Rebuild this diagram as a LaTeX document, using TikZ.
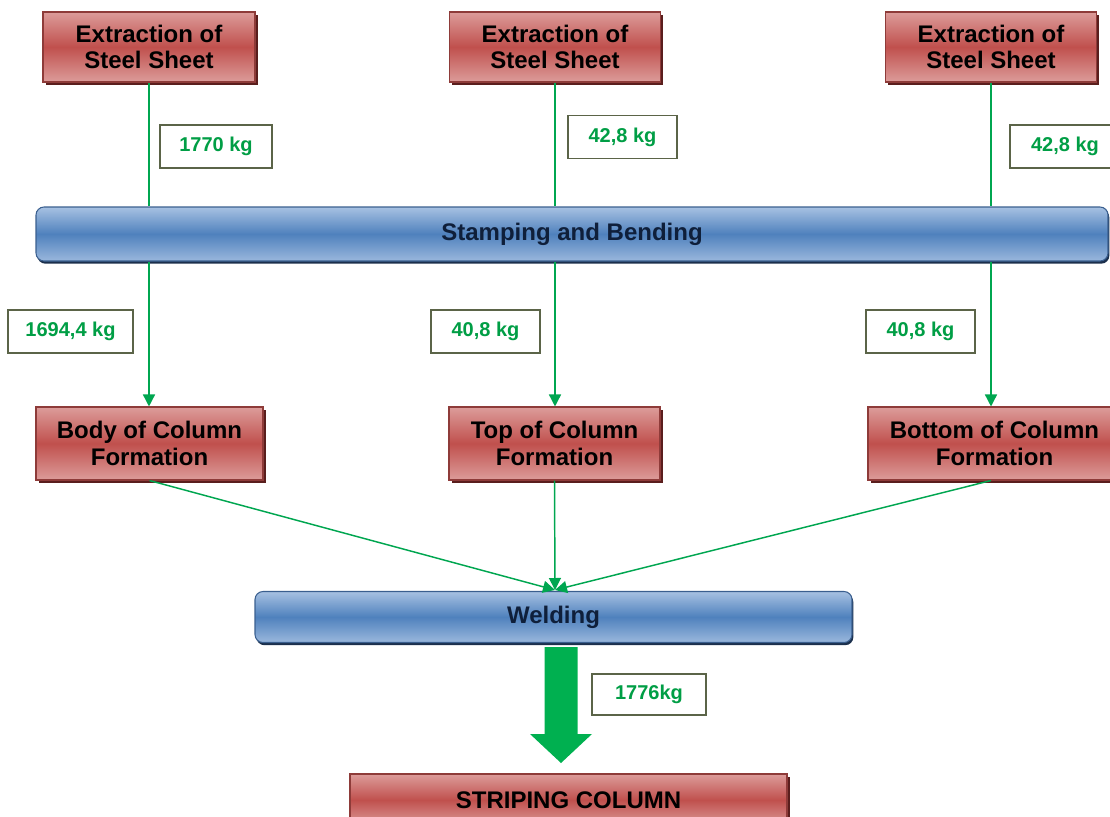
\documentclass[tikz,border=0pt]{standalone}
\usepackage{fontspec}
\setmainfont{Liberation Sans}
\usetikzlibrary{arrows.meta,shadows,calc}
\definecolor{redlight}{HTML}{DC9C9A}
\definecolor{redmid}{HTML}{C0504D}
\definecolor{redborder}{HTML}{8E3B39}
\definecolor{redshadow}{HTML}{5A1E1D}
\definecolor{bluelight}{HTML}{A7C1E2}
\definecolor{bluemid}{HTML}{4F81BD}
\definecolor{blueborder}{HTML}{3A5F8F}
\definecolor{blueshadow}{HTML}{1B2F4C}
\definecolor{flowgreen}{HTML}{00A650}
\definecolor{arrowgreen}{HTML}{00B050}
\definecolor{labelgreen}{HTML}{009E45}
\definecolor{labelborder}{HTML}{5B6448}
\definecolor{navytext}{HTML}{0F1F3A}
\begin{document}
\begin{tikzpicture}[x=0.75pt,y=-0.75pt,
  redbox/.style={draw=redborder, line width=0.8pt, top color=redlight, bottom color=redlight, middle color=redmid,
    drop shadow={shadow xshift=2pt, shadow yshift=-2pt, fill=redshadow, opacity=1},
    align=center, font=\fontsize{18}{20}\selectfont\bfseries, text=black, inner sep=0pt},
  bluebar/.style={draw=blueborder, line width=0.8pt, rounded corners=6pt, top color=bluelight, bottom color=bluelight!85!bluemid, middle color=bluemid,
    drop shadow={shadow xshift=1pt, shadow yshift=-2pt, fill=blueshadow, opacity=1},
    align=center, font=\fontsize{18}{20}\selectfont\bfseries, text=navytext, inner sep=0pt},
  massbox/.style={draw=labelborder, line width=0.9pt, fill=white, font=\fontsize{15}{18}\selectfont\bfseries,
    text=labelgreen, inner sep=0pt, minimum height=43*0.75pt},
  flow/.style={draw=flowgreen, line width=1.1pt},
  flowarrow/.style={flow, -{Triangle[length=9pt,width=9pt]}}
]
\useasboundingbox (0,0) rectangle (1110,817);
\clip (0,0) rectangle (1110,817);

% top boxes
\node[redbox, minimum width=212*0.75pt, minimum height=70*0.75pt] (ext1) at (149,47) {Extraction of\\Steel Sheet};
\node[redbox, minimum width=211*0.75pt, minimum height=70*0.75pt] (ext2) at (555,47) {Extraction of\\Steel Sheet};
\node[redbox, minimum width=211*0.75pt, minimum height=70*0.75pt] (ext3) at (991,47) {Extraction of\\Steel Sheet};

% stamping bar
\node[bluebar, minimum width=1072*0.75pt, minimum height=54*0.75pt] (stamp) at (572,234) {Stamping and Bending};

% middle boxes
\node[redbox, minimum width=227*0.75pt, minimum height=73*0.75pt] (body) at (149.5,443.5) {Body of Column\\Formation};
\node[redbox, minimum width=211*0.75pt, minimum height=73*0.75pt] (topc) at (554.5,443.5) {Top of Column\\Formation};
\node[redbox, minimum width=253*0.75pt, minimum height=73*0.75pt] (botc) at (994.5,443.5) {Bottom of Column\\Formation};

% welding bar
\node[bluebar, minimum width=597*0.75pt, minimum height=51*0.75pt] (weld) at (553.5,617) {Welding};

% final box
\node[redbox, minimum width=437*0.75pt, minimum height=52*0.75pt] (strip) at (568.5,800) {STRIPING COLUMN};

% connectors top -> stamping
\draw[flow] (ext1.south) -- (ext1.south |- stamp.north);
\draw[flow] (ext2.south) -- (ext2.south |- stamp.north);
\draw[flow] (ext3.south) -- (ext3.south |- stamp.north);

% stamping -> middle boxes
\draw[flowarrow] (ext1.south |- stamp.south) -- (ext1.south |- body.north);
\draw[flowarrow] (ext2.south |- stamp.south) -- (ext2.south |- topc.north);
\draw[flowarrow] (ext3.south |- stamp.south) -- (ext3.south |- botc.north);

% middle boxes -> welding
\coordinate (wtop) at (555,590);
\draw[flowarrow] (body.south) -- (wtop);
\draw[flowarrow] (topc.south) -- (wtop);
\draw[flowarrow] (ext3.south |- botc.south) -- (wtop);

% big arrow welding -> striping
\coordinate (bigtop) at (561,647);
\coordinate (bigtip) at (561,763);
\fill[arrowgreen] ($(bigtop)+(-16.5,0)$) -- ($(bigtop)+(16.5,0)$) -- ($(bigtop)+(16.5,87)$) -- ($(bigtop)+(31,87)$) -- (bigtip) -- ($(bigtop)+(-31,87)$) -- ($(bigtop)+(-16.5,87)$) -- cycle;

% mass labels
\node[massbox, minimum width=112*0.75pt] (m1) at (216,146.5) {1770 kg};
\node[massbox, minimum width=109*0.75pt] (m2) at (622.5,137) {42,8 kg};
\node[massbox, minimum width=110*0.75pt] (m3) at (1065,146.5) {42,8 kg};
\node[massbox, minimum width=125*0.75pt] (m4) at (70.5,331.5) {1694,4 kg};
\node[massbox, minimum width=109*0.75pt] (m5) at (485.5,331.5) {40,8 kg};
\node[massbox, minimum width=109*0.75pt] (m6) at (920.5,331.5) {40,8 kg};
\node[massbox, minimum width=114*0.75pt, minimum height=41*0.75pt] (m7) at (649,694.5) {1776kg};
\end{tikzpicture}
\end{document}
